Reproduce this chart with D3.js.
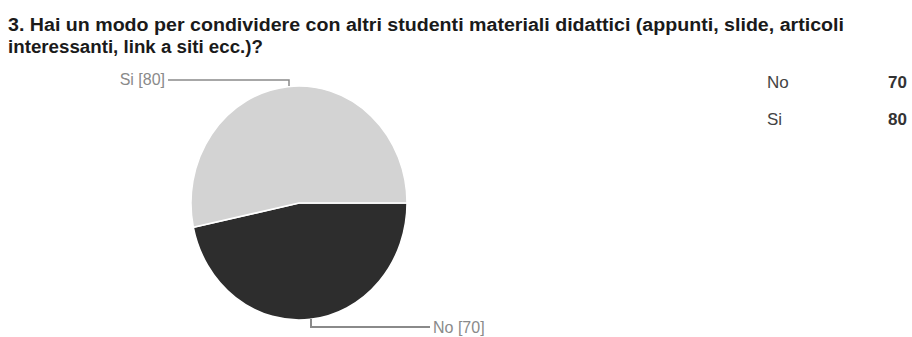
<!DOCTYPE html>
<html>
<head>
<meta charset="utf-8">
<script src="https://cdn.jsdelivr.net/npm/d3@7"></script>
<style>
  body { margin: 0; background: #fff; }
  text { font-family: "Liberation Sans Narrow", "Liberation Sans", Arial, sans-serif; }
</style>
</head>
<body>
<div id="vis"></div>
<script>
// data
const categories = ['No', 'Si'];
const values = [70, 80];
const colors = ['#2d2d2d', '#d3d3d3'];
const titleLines = [
  '3. Hai un modo per condividere con altri studenti materiali didattici (appunti, slide, articoli',
  'interessanti, link a siti ecc.)?'
];

const width = 912, height = 337;
const svg = d3.select('#vis').append('svg')
  .attr('width', width)
  .attr('height', height);

// title, two lines, bold narrow
const titleWidths = [836, 255];
titleLines.forEach((line, i) => {
  svg.append('text')
    .attr('x', 8)
    .attr('y', 31 + i * 22)
    .attr('font-size', 18)
    .attr('font-weight', 'bold')
    .attr('fill', '#1a1a1a')
    .attr('textLength', titleWidths[i])
    .attr('lengthAdjust', 'spacingAndGlyphs')
    .text(line);
});

// pie (slightly taller than wide, as in the picture)
const cx = 299, cy = 203, r = 108, sy = 117 / 108;
const pie = d3.pie().sort(null)
  .startAngle(Math.PI / 2)
  .endAngle(Math.PI / 2 + 2 * Math.PI);
const arc = d3.arc().innerRadius(0).outerRadius(r);
const arcs = pie(values);

const g = svg.append('g')
  .attr('transform', `translate(${cx},${cy}) scale(1,${sy})`);
g.selectAll('path')
  .data(arcs)
  .join('path')
  .attr('d', arc)
  .attr('fill', (d, i) => colors[i])
  .attr('stroke', '#fff')
  .attr('stroke-width', 1.5);

// leader lines and labels
const lineColor = '#8a8a8a';
// Si label (top-left)
svg.append('path')
  .attr('d', `M168,80 H289 V86`)
  .attr('fill', 'none').attr('stroke', lineColor).attr('stroke-width', 1.5);
svg.append('text')
  .attr('x', 165).attr('y', 85)
  .attr('text-anchor', 'end')
  .attr('font-size', 16).attr('fill', '#8a8a8a')
  .text(`${categories[1]} [${values[1]}]`);
// No label (bottom-right)
svg.append('path')
  .attr('d', `M311,319 V327 H430`)
  .attr('fill', 'none').attr('stroke', lineColor).attr('stroke-width', 2);
svg.append('text')
  .attr('x', 433).attr('y', 333)
  .attr('font-size', 16).attr('fill', '#8a8a8a')
  .text(`${categories[0]} [${values[0]}]`);

// legend table
const legend = svg.append('g');
categories.forEach((c, i) => {
  legend.append('text')
    .attr('x', 767).attr('y', 88 + i * 37)
    .attr('font-size', 17).attr('fill', '#444')
    .text(c);
  legend.append('text')
    .attr('x', 907).attr('y', 88 + i * 37)
    .attr('text-anchor', 'end')
    .attr('font-size', 17).attr('font-weight', 'bold').attr('fill', '#333')
    .text(values[i]);
});
</script>
</body>
</html>
